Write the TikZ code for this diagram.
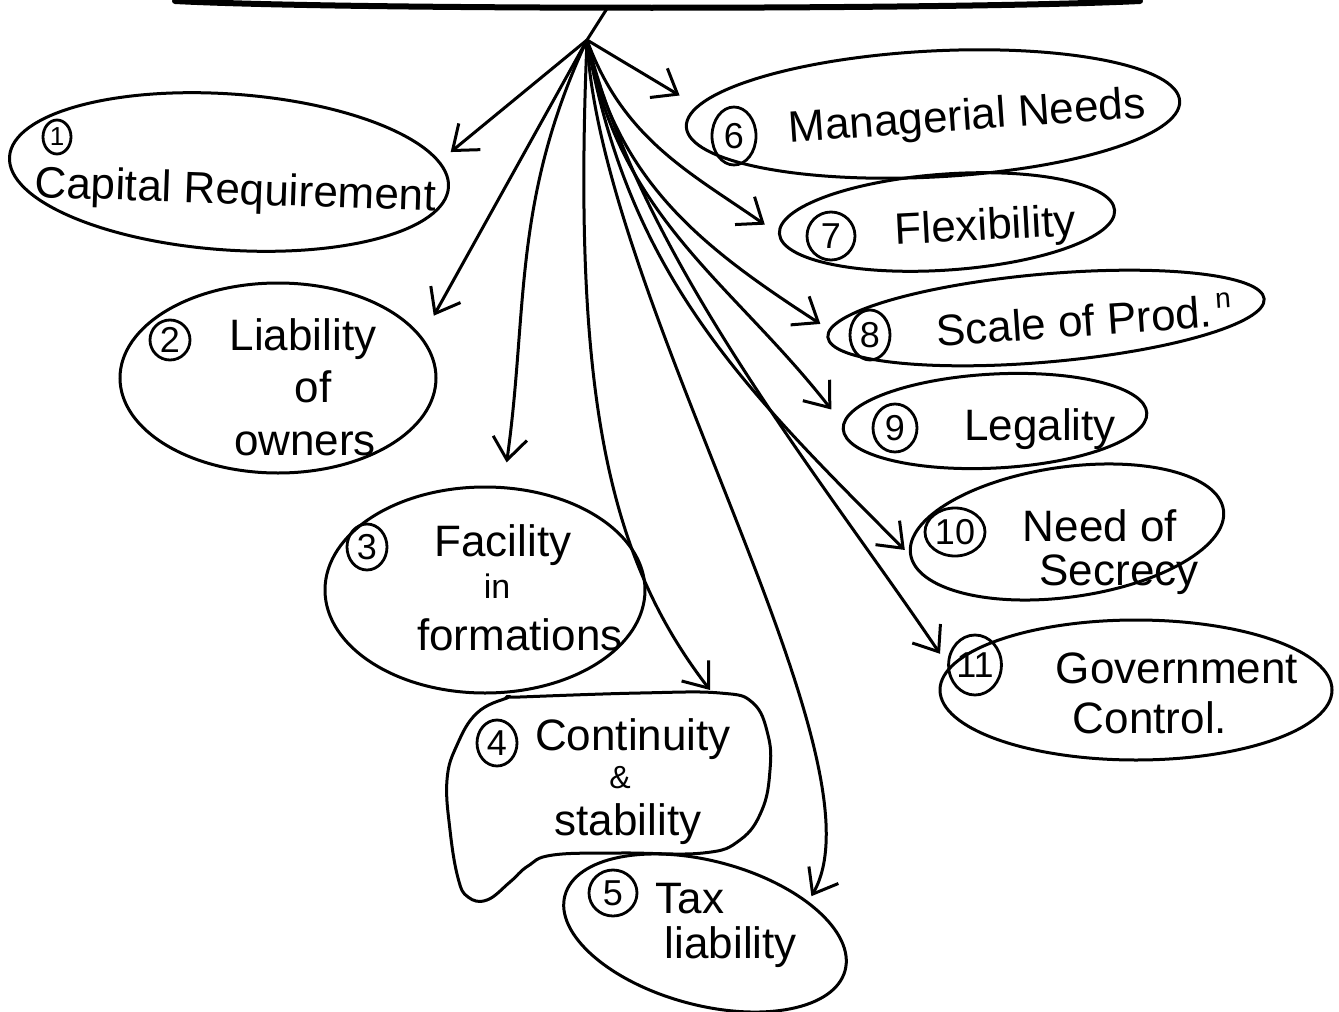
\documentclass[tikz,border=0pt]{standalone}
\usepackage{fontspec}
\setmainfont{Liberation Sans}
\usetikzlibrary{shapes.geometric,arrows.meta}

\begin{document}
\begin{tikzpicture}[x=0.5pt,y=0.5pt,
  bubble/.style={ellipse, draw, line width=1.5pt, inner sep=0pt},
  num/.style={ellipse, draw, line width=1.4pt, inner sep=0pt, minimum width=22pt, minimum height=24pt, font=\fontsize{18}{18}\selectfont},
  lbl/.style={anchor=base, inner sep=0pt, font=\fontsize{22}{24}\selectfont},
  conn/.style={line width=1.5pt, -{Straight Barb[length=11pt,width=17pt,line width=1.5pt]}},
]
\useasboundingbox (0,0) rectangle (1339,-1012);

% rim of the title bubble and the stem down to the hub
\coordinate (rimL) at (175,-1);
\coordinate (rimR) at (1140,-1);
\coordinate (top) at (608,-7);
\coordinate (hub) at (587,-40);
\draw[line width=3pt, line cap=round] (rimL) .. controls (350,-10) and (950,-10) .. (rimR);
\draw[line width=1.5pt] (top) -- (hub);

% bubbles
\node[bubble, minimum width=220pt, minimum height=78pt, rotate=-4] (e1) at (229,-172) {};
\node[bubble, minimum width=158pt, minimum height=95pt] (e2) at (278,-378) {};
\node[bubble, minimum width=160pt, minimum height=103pt] (e3) at (485,-590) {};
\node[bubble, minimum width=145pt, minimum height=72pt, rotate=-15] (e5) at (705,-933) {};
\node[bubble, minimum width=247pt, minimum height=63pt, rotate=3] (e6) at (933,-114) {};
\node[bubble, minimum width=168pt, minimum height=48pt, rotate=4] (e7) at (947,-222) {};
\node[bubble, minimum width=219pt, minimum height=44pt, rotate=5] (e8) at (1046,-318) {};
\node[bubble, minimum width=152pt, minimum height=47pt, rotate=3] (e9) at (995,-421) {};
\node[bubble, minimum width=158pt, minimum height=65pt, rotate=8] (e10) at (1067,-532) {};
\node[bubble, minimum width=196pt, minimum height=70pt] (e11) at (1136,-690) {};

% free-form bubble around item 4
\draw[line width=1.5pt] plot[smooth cycle, tension=0.7] coordinates {
  (520,-697) (640,-693) (720,-693) (753,-703) (768,-735) (770,-770)
  (762,-810) (740,-840) (703,-853) (620,-853) (553,-855) (528,-866)
  (510,-882) (487,-900) (468,-897) (458,-878) (450,-830) (447,-780)
  (457,-745) (477,-713) (507,-698)};
\coordinate (conttop) at (710,-690);

% circled numbers
\node[num, minimum width=14pt, minimum height=17pt, font=\fontsize{13}{13}\selectfont] (n1) at (57,-137) {1};
\node[num, minimum width=20pt, minimum height=20pt] (n2) at (170,-340) {2};
\node[num, minimum width=20pt, minimum height=23pt] (n3) at (367,-547) {3};
\node[num, minimum width=20pt, minimum height=23pt] (n4) at (497,-743) {4};
\node[num, minimum width=24pt, minimum height=23pt] (n5) at (613,-893) {5};
\node[num, minimum width=22pt, minimum height=29pt] (n6) at (734,-136) {6};
\node[num, minimum width=24pt, minimum height=24pt] (n7) at (831,-236) {7};
\node[num, minimum width=20pt, minimum height=25pt] (n8) at (870,-335) {8};
\node[num, minimum width=22pt, minimum height=24pt] (n9) at (895,-428) {9};
\node[num, minimum width=30pt, minimum height=24pt] (n10) at (955,-532) {10};
\node[num, minimum width=25pt, minimum height=30pt] (n11) at (975,-665) {11};

% labels
\node[lbl, rotate=-2] (t1) at (235,-204) {Capital Requirement};
\node[lbl] (t2a) at (303,-350) {Liability};
\node[lbl] (t2b) at (313,-402) {of};
\node[lbl] (t2c) at (305,-455) {owners};
\node[lbl] (t3a) at (503,-556) {Facility};
\node[lbl, font=\fontsize{17}{18}\selectfont] (t3b) at (497,-598) {in};
\node[lbl] (t3c) at (520,-650) {formations};
\node[lbl] (t4a) at (633,-750) {Continuity};
\node[lbl, font=\fontsize{16}{18}\selectfont] (t4b) at (620,-788) {\&};
\node[lbl] (t4c) at (628,-835) {stability};
\node[lbl] (t5a) at (690,-913) {Tax};
\node[lbl] (t5b) at (731,-958) {liability};
\node[lbl, rotate=4] (t6) at (968,-130) {Managerial Needs};
\node[lbl, rotate=3] (t7) at (986,-240) {Flexibility};
\node[lbl, rotate=4] (t8) at (1085,-336) {Scale of Prod.\kern2pt\raisebox{9pt}{\fontsize{14}{14}\selectfont n}};
\node[lbl] (t9) at (1040,-440) {Legality};
\node[lbl] (t10a) at (1100,-541) {Need of};
\node[lbl] (t10b) at (1119,-585) {Secrecy};
\node[lbl] (t11a) at (1177,-683) {Government};
\node[lbl] (t11b) at (1150,-733) {Control.};

% connectors from the hub
\draw[conn, shorten >=7pt] (hub) -- (e1.7);
\draw[conn, shorten >=12pt] (hub) -- (e2.16);
\draw[conn, shorten >=12pt] (hub) to[out=-115,in=82] (e3.80);
\draw[conn] (hub) .. controls (572,-400) and (610,-560) .. (conttop);
\draw[conn, shorten >=3pt] (hub) .. controls (600,-300) and (890,-760) .. (e5.32);
\draw[conn, shorten >=10pt] (hub) -- (e6.175);
\draw[conn, shorten >=8pt] (hub) to[out=-70,in=145] (e7.180);
\draw[conn, shorten >=5pt] (hub) to[out=-78,in=147] (e8.178);
\draw[conn, shorten >=9pt] (hub) to[out=-80,in=128] (e9.178);
\draw[conn, shorten >=3pt] (hub) to[out=-80,in=135] (e10.180);
\draw[conn, shorten >=8pt] (hub) to[out=-76,in=124,looseness=0.8] (e11.173);
\end{tikzpicture}
\end{document}
